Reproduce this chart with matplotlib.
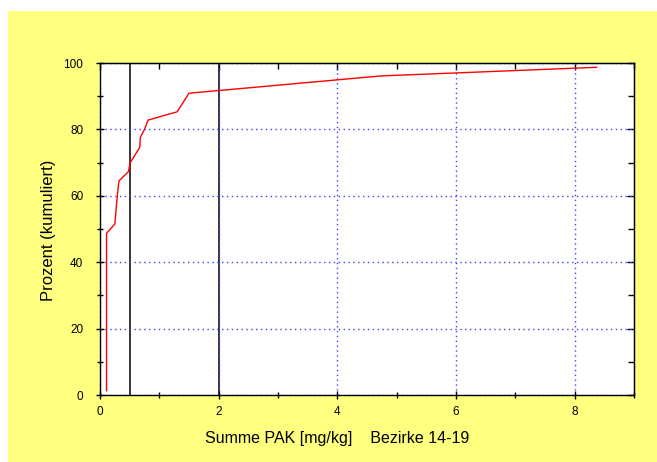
import matplotlib
matplotlib.use("Agg")
import matplotlib.pyplot as plt
from matplotlib.patches import Rectangle
from matplotlib.ticker import MultipleLocator

# Summe PAK [mg/kg] vs. kumulierter Prozentanteil
pak = [0.11, 0.11, 0.25, 0.29, 0.32, 0.48, 0.51, 0.67, 0.68, 0.75, 0.81,
       1.30, 1.50, 4.73, 8.37]
prozent = [1.3, 48.7, 51.5, 59.7, 64.5, 67.3, 70.0, 74.6, 77.6, 80.0, 82.8,
           85.3, 90.9, 96.1, 98.7]
grenzwerte = [0.5, 2.0]

plt.rcParams['font.family'] = ['Liberation Sans', 'DejaVu Sans']

fig = plt.figure(figsize=(6.57, 4.62), dpi=100)
fig.patch.set_facecolor('white')
fig.add_artist(Rectangle((8 / 657, 0), 1, (462 - 11) / 462,
                         transform=fig.transFigure, facecolor='#ffff80',
                         edgecolor='none', zorder=-5))

ax = fig.add_axes([100 / 657, 67 / 462, 534 / 657, 332 / 462])
ax.set_zorder(1)
ax.set_facecolor('white')

ax.grid(True, which='major', color='#4040ff', linestyle=(0, (1, 2.5)), linewidth=1.0)
for g in grenzwerte:
    ax.axvline(g, color='black', linewidth=1.1, zorder=1)
ax.plot(pak, prozent, color='red', linewidth=1.0, zorder=3)

ax.set_xlim(0, 9)
ax.set_ylim(0, 100)
ax.xaxis.set_major_locator(MultipleLocator(2))
ax.xaxis.set_minor_locator(MultipleLocator(1))
ax.yaxis.set_major_locator(MultipleLocator(20))
ax.yaxis.set_minor_locator(MultipleLocator(10))

ax.tick_params(axis='both', which='both', labelsize=8.5, color='black',
               direction='inout')
ax.tick_params(which='major', length=6, width=1)
ax.tick_params(which='minor', length=4, width=1)
ax.tick_params(axis='x', which='major', pad=5)
ax.tick_params(axis='y', which='major', pad=9)

# Ticks oben und rechts nur nach innen
top = ax.secondary_xaxis('top')
top.xaxis.set_major_locator(MultipleLocator(2))
top.xaxis.set_minor_locator(MultipleLocator(1))
top.tick_params(which='both', direction='in', labeltop=False, width=1)
top.tick_params(which='major', length=5)
top.tick_params(which='minor', length=4)
right = ax.secondary_yaxis('right')
right.yaxis.set_major_locator(MultipleLocator(20))
right.yaxis.set_minor_locator(MultipleLocator(10))
right.tick_params(which='both', direction='in', labelright=False, width=1)
right.tick_params(which='major', length=5)
right.tick_params(which='minor', length=4)

for s in ax.spines.values():
    s.set_linewidth(1.0)
    s.set_color('black')

ax.set_xlabel('Summe PAK [mg/kg]    Bezirke 14-19', fontsize=11.5)
ax.xaxis.set_label_coords(0.444, -0.108)
ax.set_ylabel('Prozent (kumuliert)', fontsize=12)
ax.yaxis.set_label_coords(-0.083, 0.497)

fig.savefig('out.png', dpi=100)
